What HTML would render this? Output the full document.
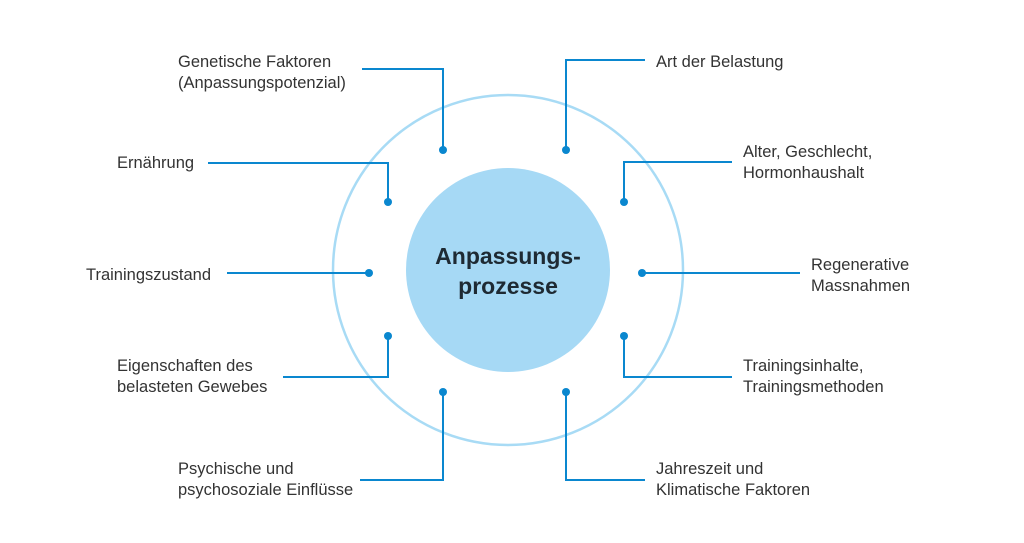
<!DOCTYPE html>
<html><head><meta charset="utf-8"><style>
body{margin:0;width:1024px;height:538px;background:#fff;overflow:hidden}
svg text{font-family:"Liberation Sans",sans-serif;font-size:16.5px;fill:#333}
</style></head><body>
<svg width="1024" height="538" viewBox="0 0 1024 538">
<circle cx="508" cy="270" r="175" fill="none" stroke="#a8dbf5" stroke-width="2.5"/>
<circle cx="508" cy="270" r="102" fill="#a6d9f5"/>
<text x="508" y="264" text-anchor="middle" style="font-size:23px;font-weight:bold;fill:#1e2a33">Anpassungs-</text>
<text x="508" y="294" text-anchor="middle" style="font-size:23px;font-weight:bold;fill:#1e2a33">prozesse</text>
<g fill="none" stroke="#0a87cf" stroke-width="2">
<polyline points="362,69 443,69 443,150"/>
<polyline points="208,163 388,163 388,202"/>
<polyline points="227,273 369,273"/>
<polyline points="283,377 388,377 388,336"/>
<polyline points="360,480 443,480 443,392"/>
<polyline points="645,60 566,60 566,150"/>
<polyline points="732,162 624,162 624,202"/>
<polyline points="800,273 642,273"/>
<polyline points="732,377 624,377 624,336"/>
<polyline points="645,480 566,480 566,392"/>
</g>
<g fill="#0a87cf">
<circle cx="443" cy="150" r="4"/><circle cx="388" cy="202" r="4"/><circle cx="369" cy="273" r="4"/>
<circle cx="388" cy="336" r="4"/><circle cx="443" cy="392" r="4"/><circle cx="566" cy="150" r="4"/>
<circle cx="624" cy="202" r="4"/><circle cx="642" cy="273" r="4"/><circle cx="624" cy="336" r="4"/>
<circle cx="566" cy="392" r="4"/>
</g>
<text x="178" y="67">Genetische Faktoren</text>
<text x="178" y="88">(Anpassungspotenzial)</text>
<text x="117" y="168">Ernährung</text>
<text x="86" y="280">Trainingszustand</text>
<text x="117" y="371">Eigenschaften des</text>
<text x="117" y="392">belasteten Gewebes</text>
<text x="178" y="474">Psychische und</text>
<text x="178" y="495">psychosoziale Einflüsse</text>
<text x="656" y="67">Art der Belastung</text>
<text x="743" y="157">Alter, Geschlecht,</text>
<text x="743" y="178">Hormonhaushalt</text>
<text x="811" y="270">Regenerative</text>
<text x="811" y="291">Massnahmen</text>
<text x="743" y="371">Trainingsinhalte,</text>
<text x="743" y="392">Trainingsmethoden</text>
<text x="656" y="474">Jahreszeit und</text>
<text x="656" y="495">Klimatische Faktoren</text>
</svg>
</body></html>
